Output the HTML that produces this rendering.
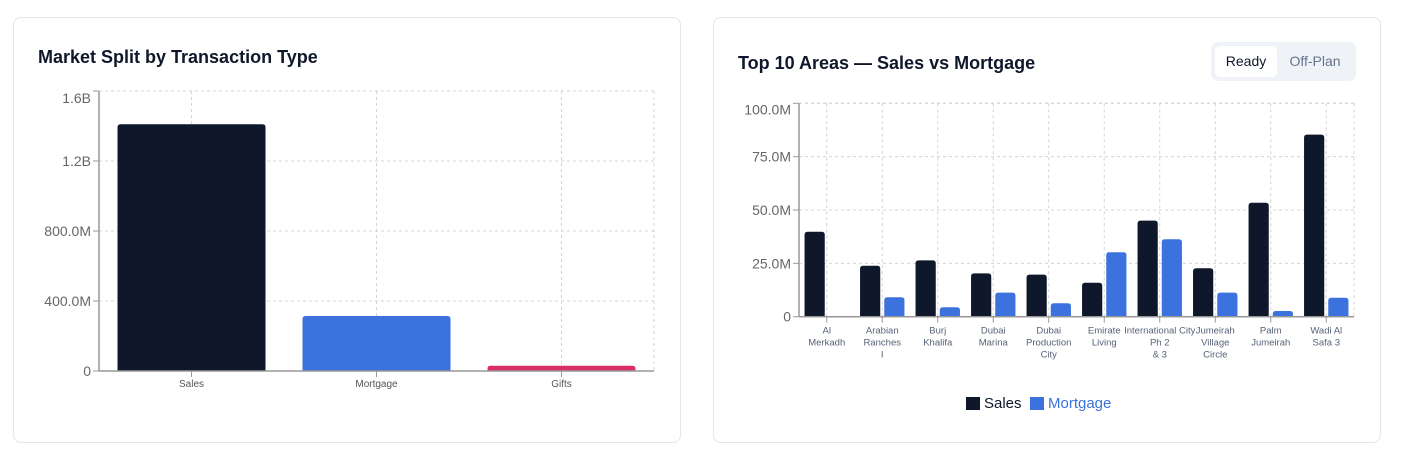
<!DOCTYPE html>
<html><head><meta charset="utf-8"><style>
body{margin:0;width:1411px;height:457px;background:#fff;font-family:"Liberation Sans",sans-serif;position:relative;overflow:hidden}
.card{position:absolute;border:1px solid #e2e5ea;border-radius:8px;background:#fff;box-sizing:border-box}
.title{position:absolute;font-weight:bold;font-size:18px;color:#0f172a}
svg{position:absolute;left:0;top:0}
</style></head><body>
<div class="card" style="left:13px;top:17px;width:668px;height:426px"></div>
<div class="card" style="left:713px;top:17px;width:668px;height:426px"></div>
<div class="title" style="left:38px;top:47px">Market Split by Transaction Type</div>
<div class="title" style="left:738px;top:53px">Top 10 Areas — Sales vs Mortgage</div>
<div style="position:absolute;left:1211px;top:42px;width:145px;height:39px;background:#eff3f8;border-radius:7px"></div>
<div style="position:absolute;left:1215px;top:46px;width:62px;height:31px;background:#fff;border-radius:5px;font-size:14px;color:#0f172a;text-align:center;line-height:31px">Ready</div>
<div style="position:absolute;left:1280px;top:46px;width:70px;height:31px;font-size:14px;color:#64748b;text-align:center;line-height:31px">Off-Plan</div>
<svg id="chart" width="1411" height="457"></svg>
<script>
const leftCats=["Sales","Mortgage","Gifts"];
const leftVals=[1.41e9,0.314e9,0.03e9];
const leftColors=["#0f172a","#3b72de","#db2d6a"];
const leftTicks=[0,4e8,8e8,1.2e9,1.6e9];
const leftTickLabels=["0","400.0M","800.0M","1.2B","1.6B"];
const areaCats=[["Al","Merkadh"],["Arabian","Ranches","I"],["Burj","Khalifa"],["Dubai","Marina"],["Dubai","Production","City"],["Emirate","Living"],["International City","Ph 2","& 3"],["Jumeirah","Village","Circle"],["Palm","Jumeirah"],["Wadi Al","Safa 3"]];
const salesVals=[39.8,23.9,26.4,20.3,19.7,15.9,45,22.7,53.4,85.3];
const mortVals=[0,9.1,4.4,11.3,6.3,30.2,36.3,11.3,2.7,8.9];
const rightTicks=[0,25,50,75,100];
const rightTickLabels=["0","25.0M","50.0M","75.0M","100.0M"];

const svg=document.getElementById('chart');const NS="http://www.w3.org/2000/svg";
function el(t,a,txt){const e=document.createElementNS(NS,t);for(const k in a)e.setAttribute(k,a[k]);if(txt!==undefined)e.textContent=txt;svg.appendChild(e);return e;}

// left chart
const L={x0:99,x1:654,y0:371,y1:91,max:1.6e9};
const ly=v=>L.y0-(v/L.max)*(L.y0-L.y1);
const lband=(L.x1-L.x0)/leftCats.length;
leftTicks.forEach((t,i)=>{const y=ly(t);
 if(i>0){const g=el('line',{x1:L.x0,x2:L.x1,y1:y,y2:y,stroke:'#d4d4d4','stroke-dasharray':'3 3'});}
 el('line',{x1:L.x0-6,x2:L.x0,y1:y,y2:y,stroke:'#999'});
 const tx=el('text',{x:L.x0-8,y:(i==leftTicks.length-1?y+7:y)+5,'text-anchor':'end','font-size':14,fill:'#666'},leftTickLabels[i]);
 });
for(let i=0;i<=leftCats.length;i++){const x=L.x0+lband*(i+0.5);if(i<leftCats.length)el('line',{x1:x,x2:x,y1:L.y1,y2:L.y0,stroke:'#d4d4d4','stroke-dasharray':'3 3'});}
el('line',{x1:L.x1,x2:L.x1,y1:L.y1,y2:L.y0,stroke:'#d4d4d4','stroke-dasharray':'3 3'});
el('line',{x1:L.x0,x2:L.x1,y1:L.y1,y2:L.y1,stroke:'#d4d4d4','stroke-dasharray':'3 3'});
leftCats.forEach((c,i)=>{const bx=L.x0+lband*i+lband*0.1,bw=lband*0.8,y=ly(leftVals[i]);
 const r=el('path',{d:`M${bx},${L.y0}V${y+3}Q${bx},${y} ${bx+3},${y}H${bx+bw-3}Q${bx+bw},${y} ${bx+bw},${y+3}V${L.y0}Z`,fill:leftColors[i]});
 
 const cx=L.x0+lband*(i+0.5);el('line',{x1:cx,x2:cx,y1:L.y0,y2:L.y0+6,stroke:'#999'});
 const t=el('text',{x:cx,y:L.y0+16,'text-anchor':'middle','font-size':10,fill:'#555'},c);
 });
el('line',{x1:L.x0,x2:L.x0,y1:L.y1,y2:L.y0,stroke:'#999','stroke-width':1.5});
el('line',{x1:L.x0,x2:L.x1,y1:L.y0,y2:L.y0,stroke:'#999','stroke-width':1.5});

// right chart
const R={x0:799,x1:1354,y0:316.7,y1:103.3,max:100};
const ry=v=>R.y0-(v/R.max)*(R.y0-R.y1);
const rband=(R.x1-R.x0)/areaCats.length;
rightTicks.forEach((t,i)=>{const y=ry(t);
 if(i>0)el('line',{x1:R.x0,x2:R.x1,y1:y,y2:y,stroke:'#d4d4d4','stroke-dasharray':'3 3'});
 el('line',{x1:R.x0-6,x2:R.x0,y1:y,y2:y,stroke:'#999'});
 const tx=el('text',{x:R.x0-8,y:(i==rightTicks.length-1?y+6:y)+5,'text-anchor':'end','font-size':14,fill:'#666'},rightTickLabels[i]);
 });
areaCats.forEach((c,i)=>{const cx=R.x0+rband*(i+0.5);el('line',{x1:cx,x2:cx,y1:R.y1,y2:R.y0,stroke:'#d4d4d4','stroke-dasharray':'3 3'});});
el('line',{x1:R.x1,x2:R.x1,y1:R.y1,y2:R.y0,stroke:'#d4d4d4','stroke-dasharray':'3 3'});
el('line',{x1:R.x0,x2:R.x1,y1:R.y1,y2:R.y1,stroke:'#d4d4d4','stroke-dasharray':'3 3'});
function rbar(x,w,v,fill,name){if(v<=0)return;const y=ry(v);
 const r=el('path',{d:`M${x},${R.y0}V${y+3}Q${x},${y} ${x+3},${y}H${x+w-3}Q${x+w},${y} ${x+w},${y+3}V${R.y0}Z`,fill:fill});
 }
areaCats.forEach((c,i)=>{const bs=R.x0+rband*i+rband*0.1,bw=rband*0.8/2-2;
 rbar(bs,bw,salesVals[i],'#0f172a','bar-sales');rbar(bs+bw+4,bw,mortVals[i],'#3b72de','bar-mortgage');
 const cx=R.x0+rband*(i+0.5);el('line',{x1:cx,x2:cx,y1:R.y0,y2:R.y0+6,stroke:'#999'});
 c.forEach((ln,j)=>{const t=el('text',{x:cx,y:R.y0+17+j*12,'text-anchor':'middle','font-size':9.5,fill:'#556277'},ln);
  });});
el('line',{x1:R.x0,x2:R.x0,y1:R.y1,y2:R.y0,stroke:'#999','stroke-width':1.5});
el('line',{x1:R.x0,x2:R.x1,y1:R.y0,y2:R.y0,stroke:'#999','stroke-width':1.5});
// legend
let lg=el('rect',{x:966,y:397,width:14,height:13,fill:'#0f172a'});
let lt=el('text',{x:984,y:408,'font-size':15,fill:'#0f172a'},'Sales');
lg=el('rect',{x:1030,y:397,width:14,height:13,fill:'#3b72de'});
lt=el('text',{x:1048,y:408,'font-size':15,fill:'#3b72de'},'Mortgage');
</script>
</body></html>
